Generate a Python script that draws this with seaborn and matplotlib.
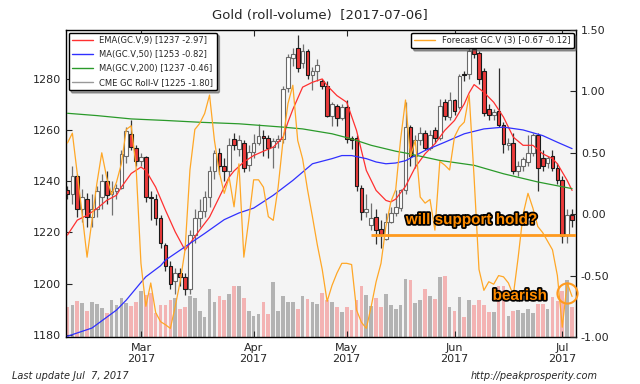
import numpy as np
import pandas as pd
import matplotlib
matplotlib.use('Agg')
import matplotlib.pyplot as plt
import matplotlib.patheffects as pe
from matplotlib.lines import Line2D
import seaborn as sns

# trading days on the chart (CME holidays removed)
holidays = ['2017-02-20', '2017-04-14', '2017-05-29', '2017-07-04']
days = pd.bdate_range('2017-02-07', '2017-07-06', freq='C', holidays=holidays)

# daily candles
opens = [1236.5, 1235, 1242, 1229, 1233, 1226, 1229, 1234, 1240, 1235,
         1236, 1237.5, 1250, 1258.5, 1253, 1248, 1249.5, 1234, 1233, 1225.5,
         1215, 1207, 1201, 1204, 1202.5, 1198, 1219, 1225.5, 1228.5, 1234,
         1244, 1251, 1246, 1244, 1256.5, 1252.5, 1255, 1246.5, 1251.5, 1255,
         1257.5, 1257, 1253.5, 1255.5, 1256.5, 1276.5, 1288, 1292, 1286, 1291,
         1281.5, 1283, 1279, 1277, 1265.5, 1269.5, 1264.5, 1269, 1257, 1257,
         1237.5, 1228, 1223, 1226, 1221.5, 1217.5, 1224, 1227.5, 1229.5, 1236.5,
         1261, 1250, 1256, 1259, 1253, 1260, 1257, 1271, 1265, 1271.5,
         1269, 1282, 1282, 1291.5, 1290, 1283, 1268, 1266, 1267.5, 1262,
         1254, 1255, 1244, 1246, 1247.5, 1251, 1258, 1249, 1247, 1250,
         1245, 1240.5, 1219, 1227]
highs = [1238, 1246, 1243, 1237, 1235.5, 1235, 1238, 1243, 1244, 1240,
         1239, 1252, 1261, 1264, 1254, 1251, 1250, 1236, 1235, 1227,
         1216, 1209, 1206, 1206, 1204, 1221, 1229, 1233, 1236, 1246,
         1252, 1253, 1249, 1257, 1259, 1258, 1256, 1254, 1258.5, 1262.5,
         1260, 1258, 1257, 1258, 1277, 1289.5, 1292, 1297, 1293.5, 1291.5,
         1284.5, 1287.5, 1280, 1279, 1271, 1270, 1270, 1271.5, 1257.5, 1258,
         1238.5, 1235, 1231.5, 1229, 1225, 1227.5, 1230, 1236.5, 1237, 1271,
         1262, 1258, 1261, 1260, 1260, 1261, 1272, 1272, 1275, 1272,
         1282, 1283, 1294, 1298, 1291, 1284, 1270, 1268, 1284, 1263,
         1257, 1259, 1248, 1249.5, 1258, 1259, 1259, 1252, 1250, 1252,
         1247, 1242, 1229, 1229]
lows = [1233, 1231, 1226, 1224, 1222, 1222, 1226, 1229, 1231, 1227,
        1233, 1237, 1247, 1252, 1246, 1246, 1232, 1225, 1223, 1214,
        1205, 1198, 1196, 1199, 1195.5, 1196, 1216, 1222, 1226, 1230,
        1241, 1243, 1240, 1242, 1252, 1250, 1243.5, 1244, 1249, 1254,
        1250, 1249, 1245, 1253, 1255, 1275, 1285, 1282.5, 1284, 1280,
        1275.5, 1279, 1276, 1265, 1261.5, 1261.5, 1264, 1255, 1252.5, 1236,
        1225, 1226, 1221, 1215.5, 1214, 1217, 1223.5, 1226.5, 1228.5, 1235,
        1246, 1245, 1254, 1252, 1252, 1255, 1256, 1264, 1264, 1266,
        1268, 1279, 1280, 1288, 1278, 1265.5, 1264, 1264, 1261, 1251,
        1252, 1243, 1242, 1244, 1246, 1250, 1236, 1244, 1245, 1244,
        1239, 1216, 1216, 1222]
closes = [1235, 1242, 1229, 1234, 1226, 1229, 1236, 1240, 1234.5, 1236,
          1237.5, 1250.5, 1259.5, 1253.5, 1248, 1249.5, 1234, 1233.5, 1225.5, 1216,
          1207, 1200, 1204, 1202.5, 1198, 1219, 1225.5, 1228.5, 1234, 1244,
          1251, 1246, 1244, 1254, 1254, 1256, 1245, 1251.5, 1255, 1257.5,
          1257, 1253, 1255.5, 1256.5, 1276, 1288.5, 1289.5, 1284, 1291, 1281.5,
          1283, 1285.5, 1277, 1265.5, 1270, 1264.5, 1269, 1256.5, 1256, 1238,
          1228, 1229, 1225.5, 1221, 1219.5, 1224, 1227.5, 1230, 1236.5, 1261,
          1250, 1256, 1259, 1253, 1258, 1257, 1269.5, 1265.5, 1271.5, 1267.5,
          1281, 1281.5, 1291, 1289.5, 1280, 1266.5, 1266, 1267, 1262, 1254.5,
          1255, 1244, 1246, 1248.5, 1251, 1258, 1245, 1246, 1249, 1245,
          1240.5, 1218.5, 1226.8, 1225]

# volume bars (relative height units)
volume = [89, 97, 109, 102, 77, 104, 100, 87, 72, 110,
          95, 117, 102, 94, 104, 139, 127, 132, 72, 97,
          97, 112, 117, 85, 90, 122, 117, 77, 60, 144,
          106, 122, 112, 129, 152, 154, 117, 77, 62, 69,
          105, 70, 164, 79, 124, 106, 105, 85, 124, 114,
          106, 99, 132, 110, 106, 91, 76, 89, 80, 112,
          153, 127, 94, 116, 91, 130, 95, 84, 95, 174,
          172, 103, 111, 145, 124, 114, 180, 184, 89, 77,
          119, 60, 110, 95, 110, 95, 76, 76, 152, 152,
          64, 79, 82, 72, 85, 72, 99, 99, 85, 120,
          107, 137, 172, 89]

# indicator lines (bar index, price)
ema_idx = [0, 2, 4, 6, 8, 10, 11, 13, 15, 16, 18, 20, 22, 24, 25, 27, 29, 31, 33, 34,
           36, 38, 40, 42, 44, 45, 46, 48, 50, 52, 53, 55, 57, 59, 61, 63, 65, 66, 67, 69,
           71, 73, 75, 77, 79, 81, 82, 83, 85, 87, 89, 91, 93, 95, 97, 99, 100, 102, 103]
ema_val = [1219, 1224.8, 1226.7, 1229.3, 1232.5, 1234.5, 1237.7, 1243, 1245.5, 1244.2,
           1237.7, 1228.7, 1220.2, 1213.1, 1215.7, 1221, 1226, 1233.8, 1241.6, 1244,
           1247.5, 1250, 1251.7, 1253.3, 1257.2, 1263, 1268, 1276.7, 1278.6, 1279.9,
           1277.3, 1273.4, 1270.8, 1259.8, 1244.2, 1236.4, 1232.5, 1231.9, 1233, 1238,
           1245.5, 1250.7, 1254.6, 1259.8, 1263.7, 1270.2, 1274.5, 1277.7, 1274.7, 1270.8,
           1265, 1257.2, 1254, 1254, 1250.7, 1248.8, 1246.8, 1240.3, 1236.4]
ma50_idx = [0, 5, 10, 12, 15, 16, 19, 20, 24, 28, 32, 35, 38, 42, 46, 50, 54, 56, 58,
            61, 63, 65, 67, 69, 73, 77, 81, 85, 89, 93, 97, 100, 103]
ma50_val = [1179.5, 1182.7, 1189.7, 1193.6, 1200.5, 1202.7, 1207, 1209.2, 1214.4, 1219.6,
            1225, 1227.6, 1229.5, 1234.5, 1240.3, 1246.8, 1248.8, 1250, 1250,
            1248.8, 1247.5, 1246.8, 1247.1, 1248, 1252, 1255.2, 1258.5, 1260.4, 1261.1,
            1260, 1257.8, 1255.2, 1252.7]
ma200_idx = [0, 6, 13, 20, 27, 35, 44, 48, 54, 58, 62, 67, 69, 76, 83, 89, 96, 103]
ma200_val = [1266.5, 1265.6, 1264.3, 1263.7, 1263, 1262.4, 1261.1, 1260.4, 1258.5, 1256.5,
             1254, 1251.7, 1251, 1248.1, 1246.2, 1242.9, 1239.7, 1237.1]

# forecast oscillator (right axis)
forecast = [0.58, 0.66, 0.33, 0.0, -0.35, -0.05, 0.25, 0.50, 0.30, 0.16,
            0.26, 0.41, 0.69, 0.72, 0.39, -0.40, -0.75, -0.56, -0.80, -0.875,
            -0.90, -0.93, -0.75, -0.55, -0.29, 0.36, 0.69, 0.74, 0.82, 0.97,
            0.60, 0.34, 0.17, 0.30, 0.06, 0.41, -0.35, -0.05, 0.28, 0.28,
            0.22, -0.02, -0.05, 0.22, 0.60, 0.90, 1.05, 0.60, 0.45, 0.20,
            -0.02, -0.25, -0.45, -0.71, -0.58, -0.48, -0.40, -0.40, -0.41, -0.78,
            -0.88, -0.93, -0.75, -0.55, -0.40, -0.10, 0.10, 0.20, 0.61, 0.93,
            0.47, 0.60, 0.14, 0.09, 0.12, -0.13, 0.43, 0.40, 0.36, 0.63,
            0.71, 0.75, 0.97, 0.30, -0.45, -0.62, -0.55, -0.57, -0.50, -0.51,
            -0.56, -0.66, -0.35, 0.0, 0.17, 0.05, -0.10, -0.15, -0.22, -0.29,
            -0.50, -0.92, -0.56, -0.67]

legend_left = ['EMA(GC.V,9) [1237 -2.97]', 'MA(GC.V,50) [1253 -0.82]',
               'MA(GC.V,200) [1237 -0.46]', 'CME GC Roll-V [1225 -1.80]']
legend_right = 'Forecast GC.V (3) [-0.67 -0.12]'
support_level = 1219
support_from = 61.9

o, h, l, c = map(np.array, (opens, highs, lows, closes))
x = np.arange(len(days))
up = c >= o

sns.set_style('white')
plt.rcParams['font.family'] = ['DejaVu Sans']

fig = plt.figure(figsize=(6.4, 3.84), dpi=100)
rect = [66 / 640, 1 - 337 / 384, 510 / 640, 307 / 384]
axv = fig.add_axes(rect, zorder=0)
ax = fig.add_axes(rect, zorder=1, sharex=axv)
ax2 = fig.add_axes(rect, zorder=2, sharex=axv)
axv.set_facecolor('#f4f4f4')
ax.patch.set_alpha(0)
ax2.patch.set_alpha(0)

# volume
vol_colors = np.where(up, '#b3b3b3', '#f3b3b3')
axv.bar(x, volume, width=0.75, color=vol_colors, lw=0)
axv.set_ylim(0, 921)

# candles
ax.vlines(x[up], l[up], h[up], color='#707070', lw=0.9, zorder=2)
ax.vlines(x[~up], l[~up], h[~up], color='#303030', lw=0.9, zorder=2)
body = np.maximum(np.abs(c - o), 0.5)
ax.bar(x[up], body[up], bottom=np.minimum(o, c)[up], width=0.75, color='white',
       edgecolor='#6a6a6a', lw=0.8, zorder=3)
ax.bar(x[~up], body[~up], bottom=np.minimum(o, c)[~up], width=0.75, color='#ec3a3a',
       edgecolor='#1a1a1a', lw=0.8, zorder=3)

# moving averages
sns.lineplot(x=ema_idx, y=ema_val, color='#ff3030', lw=0.9, ax=ax, zorder=4)
sns.lineplot(x=ma50_idx, y=ma50_val, color='#3030ff', lw=0.9, ax=ax, zorder=4)
sns.lineplot(x=ma200_idx, y=ma200_val, color='#2a9a2a', lw=0.9, ax=ax, zorder=4)
ax.hlines(support_level, support_from, 103.8, color='#ff9a1e', lw=2, zorder=5)

# forecast line
sns.lineplot(x=x, y=forecast, color='#ffa726', lw=0.9, ax=ax2)

ax.set_xlim(-0.3, 103.8)
ax.set_ylim(1179.2, 1299)
ax2.set_ylim(-1.0, 1.5)

# month ticks at first trading day of each month
first = pd.Series(x, index=days).groupby([days.year, days.month]).first()
ticks = first.values[1:]
labels = [f'{d:%b}\n{d:%Y}' for d in days[ticks]]
ax.set_xticks(ticks)
ax.set_xticklabels(labels)
ax.set_yticks([1180, 1200, 1220, 1240, 1260, 1280])
ax2.set_yticks([-1.0, -0.5, 0.0, 0.5, 1.0, 1.5])
ax2.set_yticklabels(['-1.00', '-0.50', '0.00', '0.50', '1.00', '1.50'])

ax.tick_params(axis='x', direction='in', top=True, bottom=True, length=4, labelsize=8, pad=4)
ax.tick_params(axis='y', direction='in', left=True, right=False, length=4, labelsize=8)
ax2.tick_params(axis='y', direction='in', left=False, right=True, labelleft=False,
                labelright=True, length=4, labelsize=8)
ax2.tick_params(axis='x', bottom=False, labelbottom=False)
axv.tick_params(left=False, bottom=False, labelleft=False, labelbottom=False)
for a in (axv, ax, ax2):
    a.set_xlabel('')
    a.set_ylabel('')
for sp in axv.spines.values():
    sp.set_color('black')
    sp.set_linewidth(1)
for a in (ax, ax2):
    for sp in a.spines.values():
        sp.set_visible(False)

# legends
handles = [Line2D([], [], color=col, lw=1) for col in ('#ff3030', '#3030ff', '#2a9a2a', '#999999')]
leg = ax.legend(handles, legend_left, loc='upper left', fontsize=6, frameon=True, shadow=True,
                fancybox=True, handlelength=2.5, borderaxespad=0.3, labelspacing=0.6)
leg.get_frame().set_edgecolor('black')
leg.get_frame().set_alpha(1)
leg2 = ax2.legend([Line2D([], [], color='#ffa726', lw=1)], [legend_right], loc='upper right',
                  fontsize=6, frameon=True, shadow=True, fancybox=True, handlelength=2.5,
                  borderaxespad=0.3)
leg2.get_frame().set_edgecolor('black')
leg2.get_frame().set_alpha(1)

# annotations
txt_kw = dict(fontsize=11, fontweight='bold', color='#ff8c00', family='Liberation Sans',
              transform=ax2.transAxes, ha='center', va='center',
              path_effects=[pe.withStroke(linewidth=2.5, foreground='black')], zorder=6)
ax2.text(0.796, 0.381, 'will support hold?', **txt_kw)
ax2.text(0.89, 0.134, 'bearish', **txt_kw)
ax2.plot([0.982], [0.143], transform=ax2.transAxes, marker='o', ms=14.5, mfc='none',
         mec='#ff9a1e', mew=1.5, clip_on=False, zorder=6)

fig.text(0.5, 1 - 15 / 384, 'Gold (roll-volume)  [2017-07-06]', ha='center', va='center', fontsize=9.5)
fig.text(12 / 640, 1 - 376 / 384, 'Last update Jul  7, 2017', ha='left', va='center',
         fontsize=7, style='italic')
fig.text(598 / 640, 1 - 376 / 384, 'http://peakprosperity.com', ha='right', va='center',
         fontsize=7, style='italic')

fig.savefig('out.png', dpi=100)
